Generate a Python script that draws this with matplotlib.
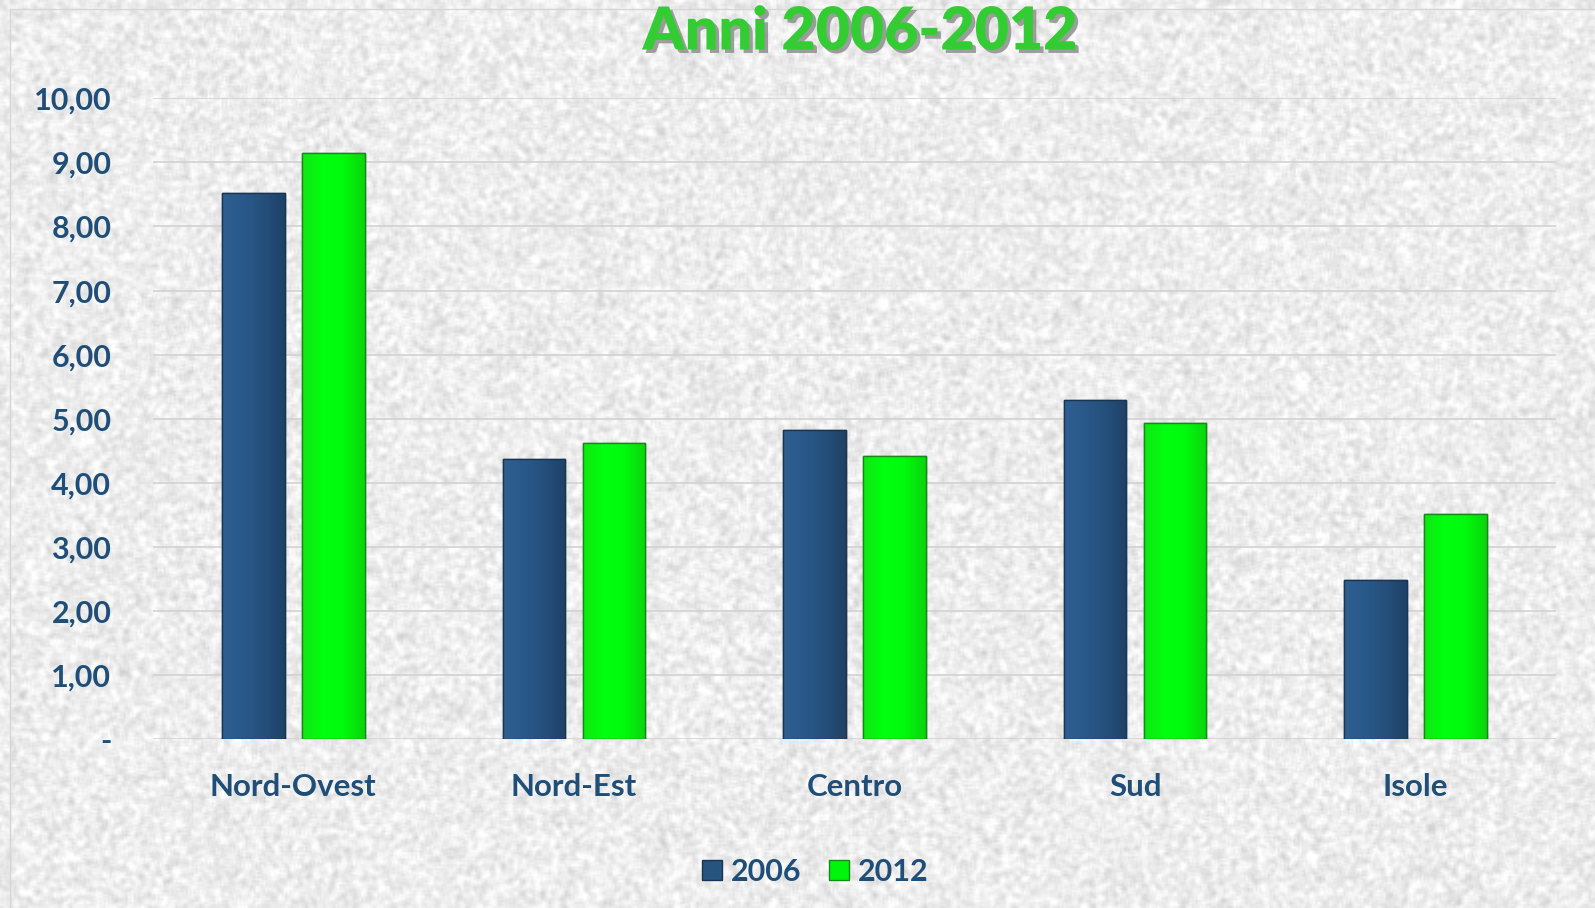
import numpy as np
import matplotlib
matplotlib.use("Agg")
import matplotlib.pyplot as plt
from matplotlib.colors import LinearSegmentedColormap
from matplotlib.patches import Patch
from matplotlib.lines import Line2D
import matplotlib.patheffects as pe

# ---- data ----
categories = ["Nord-Ovest", "Nord-Est", "Centro", "Sud", "Isole"]
values_2006 = [8.53, 4.37, 4.82, 5.29, 2.49]
values_2012 = [9.14, 4.62, 4.42, 4.93, 3.51]
series_labels = ["2006", "2012"]
yticks = [0, 1, 2, 3, 4, 5, 6, 7, 8, 9, 10]
ytick_labels = ["-", "1,00", "2,00", "3,00", "4,00", "5,00", "6,00", "7,00", "8,00", "9,00", "10,00"]
title_text = "Anni 2006-2012"

W, H = 1595, 908
fig = plt.figure(figsize=(W / 100, H / 100), dpi=100)

# ---- textured background ----
bg_ax = fig.add_axes([0, 0, 1, 1], zorder=-10)
rng = np.random.default_rng(3)
n = rng.random((H // 2 + 2, W // 2 + 2))
sm = n.copy()
for dx in (-1, 0, 1):
    for dy in (-1, 0, 1):
        if dx or dy:
            sm += np.roll(np.roll(n, dx, 0), dy, 1)
sm /= 9.0
sm = (sm - sm.mean()) / sm.std()
tex = np.clip(0.93 + 0.032 * sm, 0.78, 1.0)
bg_ax.imshow(tex, cmap="gray", vmin=0, vmax=1, aspect="auto",
             interpolation="bilinear", extent=[0, 1, 0, 1])
bg_ax.set_axis_off()
fig.add_artist(Line2D([10 / W, 10 / W], [0, 1 - 9 / H], transform=fig.transFigure,
                      color="#d6d6d6", lw=1, zorder=-5))
fig.add_artist(Line2D([10 / W, 1], [1 - 9 / H, 1 - 9 / H], transform=fig.transFigure,
                      color="#d6d6d6", lw=1, zorder=-5))

# ---- main axes ----
ax = fig.add_axes([153 / W, (H - 739.3) / H, 1403 / W, 641 / H])
ax.patch.set_alpha(0)

x = np.arange(len(categories))
bw = 0.2227
off = 0.1425
blue_cmap = LinearSegmentedColormap.from_list("b", ["#2e6090", "#29598a", "#254f7b", "#1e4166"])
green_cmap = LinearSegmentedColormap.from_list("g", ["#10e812", "#00ff10", "#00fa0c", "#0cd40e"])

bars_a = ax.bar(x - off, values_2006, width=bw, color="#27547f", edgecolor="#1a3552", lw=1.0, zorder=3)
bars_b = ax.bar(x + off, values_2012, width=bw, color="#00f50c", edgecolor="#15891a", lw=1.0, zorder=3)

grad = np.linspace(0, 1, 64).reshape(1, -1)
for bars, cm in ((bars_a, blue_cmap), (bars_b, green_cmap)):
    for b in bars:
        x0, y0, w, h = b.get_x(), b.get_y(), b.get_width(), b.get_height()
        im = ax.imshow(grad, cmap=cm, extent=[x0, x0 + w, y0, y0 + h], aspect="auto",
                       zorder=3.1, interpolation="bilinear")
        im.set_clip_path(b)
        ax.add_patch(plt.Rectangle((x0, y0), w, h, fill=False, edgecolor=b.get_edgecolor(),
                                   lw=1.0, zorder=3.2))

ax.set_xlim(-0.5, len(categories) - 0.5)
ax.set_ylim(0, 10)
ax.set_aspect("auto")

font = "Lato"
label_color = "#1f4e79"
ax.set_yticks(yticks)
ax.set_yticklabels(ytick_labels, fontfamily=font, fontweight="bold", fontsize=22, color=label_color)
ax.set_xticks(x)
ax.set_xticklabels(categories, fontfamily=font, fontweight="bold", fontsize=22.5, color=label_color)
ax.tick_params(axis="y", length=0, pad=30)
ax.tick_params(axis="x", length=0, pad=24)
ax.grid(axis="y", color="#d2d2d2", lw=1.2, zorder=0)
ax.set_axisbelow(True)
for s in ax.spines.values():
    s.set_visible(False)

# ---- title ----
fig.text(860 / W, 1 - 32 / H, title_text, ha="center", va="center", fontfamily=font,
         fontweight="heavy", fontsize=42.5, color="#33cc33",
         path_effects=[pe.withSimplePatchShadow(offset=(2.5, -2.5), shadow_rgbFace="#888888", alpha=0.8)])

# ---- legend ----
handles = [Patch(facecolor="#27547f", edgecolor="#1a3552"),
           Patch(facecolor="#00f50c", edgecolor="#15891a")]
leg = fig.legend(handles, series_labels, loc="center", bbox_to_anchor=(815 / W, 1 - 872 / H),
                 ncol=2, frameon=False, handlelength=0.65, handleheight=0.65, handletextpad=0.3,
                 columnspacing=0.9, prop={"family": font, "weight": "bold", "size": 22})
for t in leg.get_texts():
    t.set_color(label_color)

fig.savefig("out.png", dpi=100)
